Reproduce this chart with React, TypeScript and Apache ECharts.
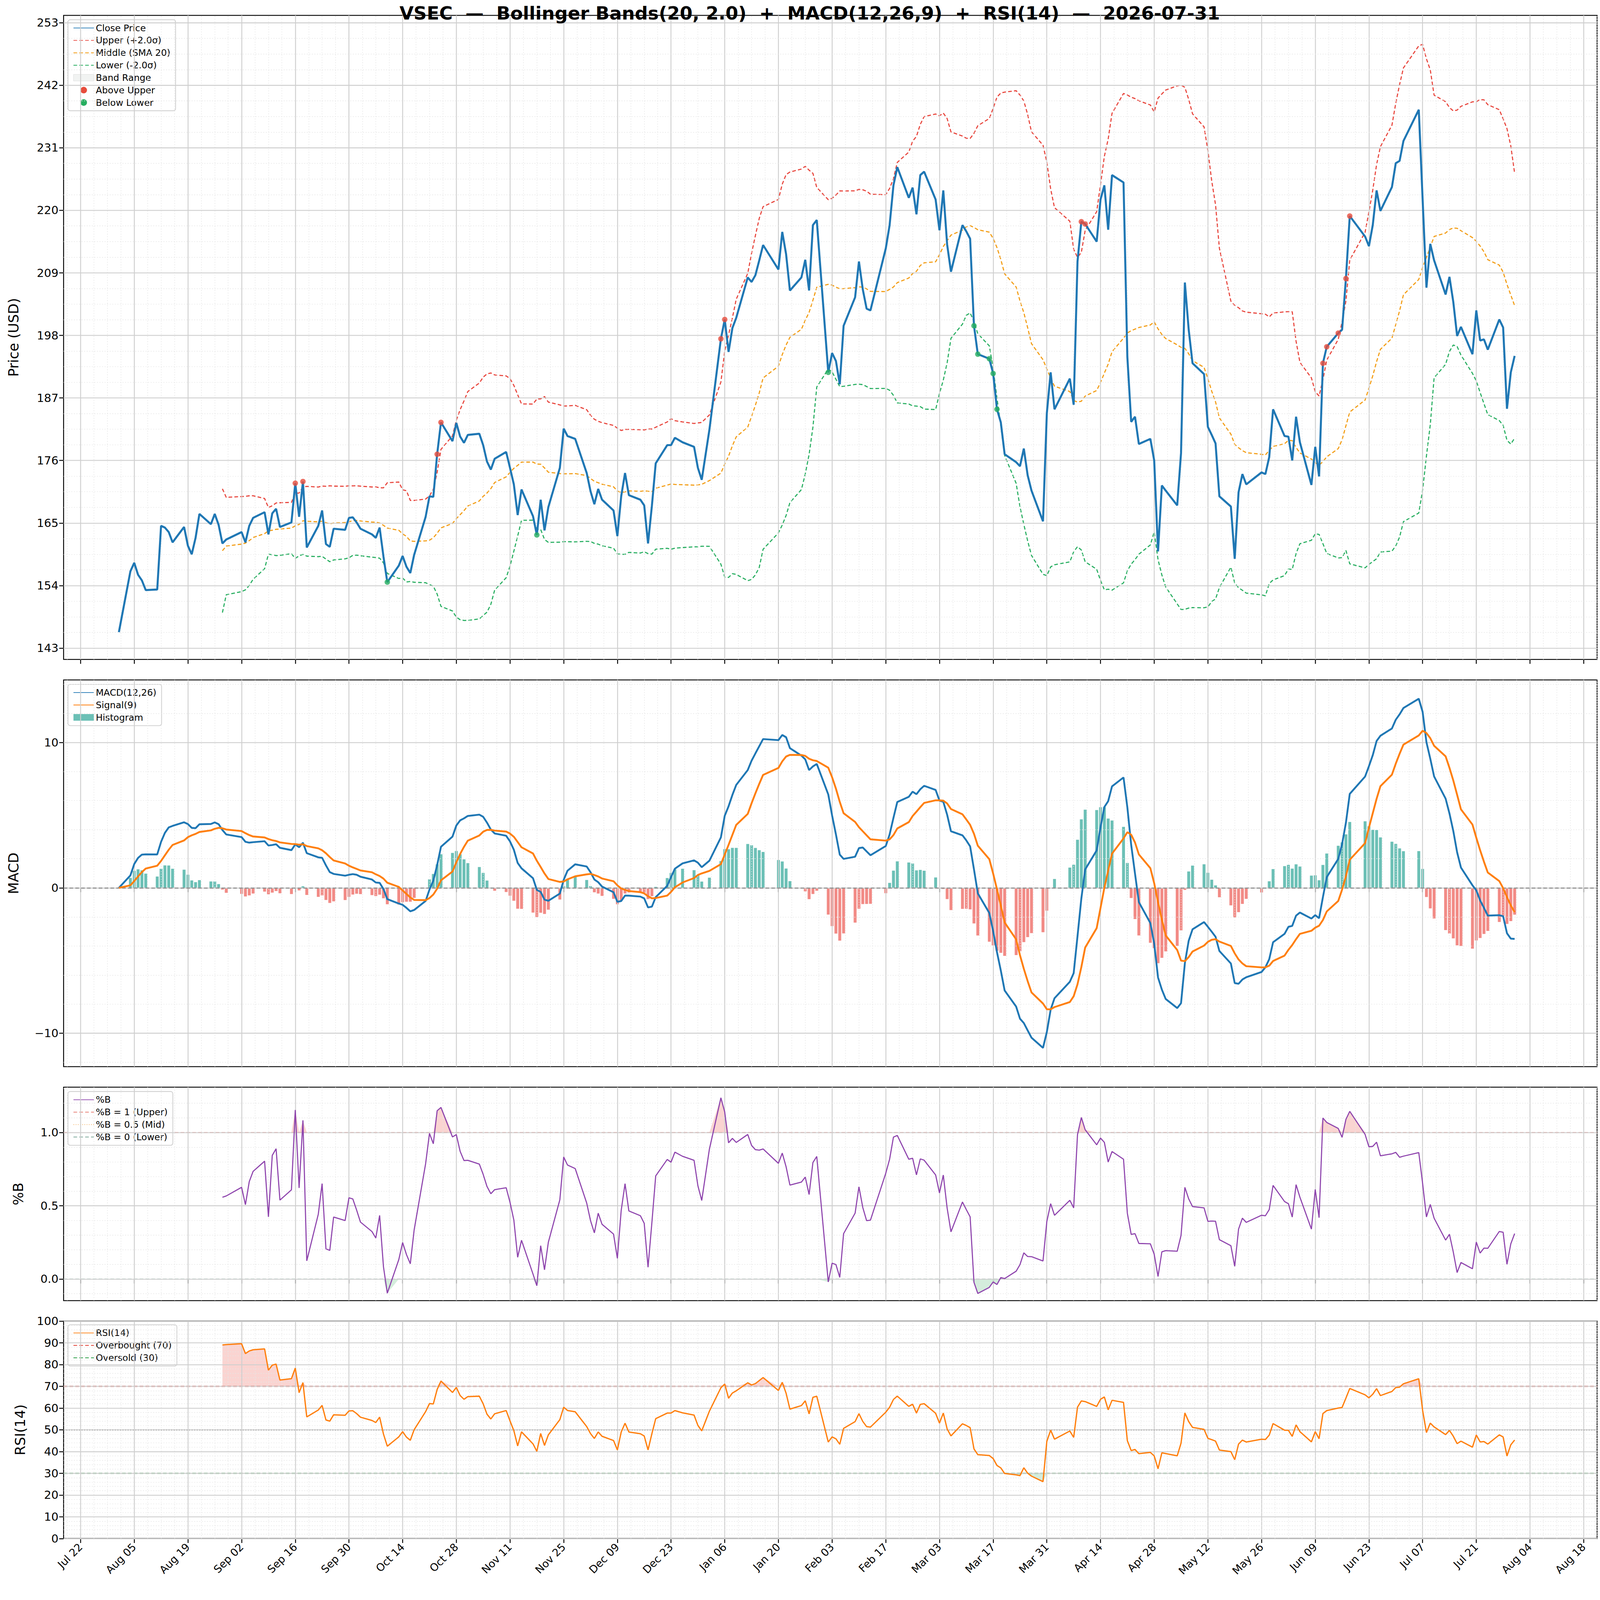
import * as echarts from "echarts";
import { useEffect, useRef, useState } from "react";

const TICKER = "VSEC";

const dates = [
  "2025-08-01","2025-08-04","2025-08-05","2025-08-06","2025-08-07","2025-08-08","2025-08-11","2025-08-12","2025-08-13","2025-08-14","2025-08-15","2025-08-18","2025-08-19","2025-08-20","2025-08-21","2025-08-22","2025-08-25","2025-08-26","2025-08-27","2025-08-28","2025-08-29",
  "2025-09-02","2025-09-03","2025-09-04","2025-09-05","2025-09-08","2025-09-09","2025-09-10","2025-09-11","2025-09-12","2025-09-15","2025-09-16","2025-09-17","2025-09-18","2025-09-19","2025-09-22","2025-09-23","2025-09-24","2025-09-25","2025-09-26","2025-09-29","2025-09-30",
  "2025-10-01","2025-10-02","2025-10-03","2025-10-06","2025-10-07","2025-10-08","2025-10-09","2025-10-10","2025-10-13","2025-10-14","2025-10-15","2025-10-16","2025-10-17","2025-10-20","2025-10-21","2025-10-22","2025-10-23","2025-10-24","2025-10-27","2025-10-28","2025-10-29","2025-10-30","2025-10-31",
  "2025-11-03","2025-11-04","2025-11-05","2025-11-06","2025-11-07","2025-11-10","2025-11-11","2025-11-12","2025-11-13","2025-11-14","2025-11-17","2025-11-18","2025-11-19","2025-11-20","2025-11-21","2025-11-24","2025-11-25","2025-11-26","2025-11-28",
  "2025-12-01","2025-12-02","2025-12-03","2025-12-04","2025-12-05","2025-12-08","2025-12-09","2025-12-10","2025-12-11","2025-12-12","2025-12-15","2025-12-16","2025-12-17","2025-12-18","2025-12-19","2025-12-22","2025-12-23","2025-12-24","2025-12-26","2025-12-29","2025-12-30","2025-12-31",
  "2026-01-02","2026-01-05","2026-01-06","2026-01-07","2026-01-08","2026-01-09","2026-01-12","2026-01-13","2026-01-14","2026-01-15","2026-01-16","2026-01-20","2026-01-21","2026-01-22","2026-01-23","2026-01-26","2026-01-27","2026-01-28","2026-01-29","2026-01-30",
  "2026-02-02","2026-02-03","2026-02-04","2026-02-05","2026-02-06","2026-02-09","2026-02-10","2026-02-11","2026-02-12","2026-02-13","2026-02-17","2026-02-18","2026-02-19","2026-02-20","2026-02-23","2026-02-24","2026-02-25","2026-02-26","2026-02-27",
  "2026-03-02","2026-03-03","2026-03-04","2026-03-05","2026-03-06","2026-03-09","2026-03-10","2026-03-11","2026-03-12","2026-03-13","2026-03-16","2026-03-17","2026-03-18","2026-03-19","2026-03-20","2026-03-23","2026-03-24","2026-03-25","2026-03-26","2026-03-27","2026-03-30","2026-03-31",
  "2026-04-01","2026-04-02","2026-04-06","2026-04-07","2026-04-08","2026-04-09","2026-04-10","2026-04-13","2026-04-14","2026-04-15","2026-04-16","2026-04-17","2026-04-20","2026-04-21","2026-04-22","2026-04-23","2026-04-24","2026-04-27","2026-04-28","2026-04-29","2026-04-30",
  "2026-05-01","2026-05-04","2026-05-05","2026-05-06","2026-05-07","2026-05-08","2026-05-11","2026-05-12","2026-05-13","2026-05-14","2026-05-15","2026-05-18","2026-05-19","2026-05-20","2026-05-21","2026-05-22","2026-05-26","2026-05-27","2026-05-28","2026-05-29",
  "2026-06-01","2026-06-02","2026-06-03","2026-06-04","2026-06-05","2026-06-08","2026-06-09","2026-06-10","2026-06-11","2026-06-12","2026-06-15","2026-06-16","2026-06-17","2026-06-18","2026-06-22","2026-06-23","2026-06-24","2026-06-25","2026-06-26","2026-06-29","2026-06-30",
  "2026-07-01","2026-07-02","2026-07-06","2026-07-07","2026-07-08","2026-07-09","2026-07-10","2026-07-13","2026-07-14","2026-07-15","2026-07-16","2026-07-17","2026-07-20","2026-07-21","2026-07-22","2026-07-23","2026-07-24","2026-07-27","2026-07-28","2026-07-29","2026-07-30","2026-07-31",
];

const closes = [
  145.8,156.5,158.0,155.9,154.9,153.2,153.3,164.5,164.2,163.4,161.6,164.3,161.0,159.5,162.4,166.6,164.8,166.6,164.7,161.4,162.1,
  163.4,161.6,164.5,165.9,166.9,163.0,166.7,167.5,164.3,165.1,172.0,166.1,172.3,160.7,164.5,167.2,161.3,160.8,164.0,163.8,165.9,
  166.0,165.1,164.0,163.0,162.4,164.2,159.1,154.6,157.5,159.2,157.3,156.2,159.4,166.1,169.7,169.6,177.1,182.7,179.4,182.6,180.2,179.1,180.5,
  180.7,178.7,175.8,174.4,176.3,177.5,174.7,171.8,166.4,170.9,166.2,162.9,169.1,163.7,167.8,174.7,181.6,180.3,179.8,
  173.8,170.6,168.3,171.0,169.1,167.2,162.7,169.7,173.8,169.9,169.1,168.1,161.4,168.0,175.5,178.7,178.7,180.0,179.2,178.4,174.7,172.6,
  181.4,197.4,200.8,195.1,199.3,201.1,208.2,207.4,208.6,211.2,213.9,209.6,216.2,212.3,205.9,208.2,211.3,205.9,217.4,218.3,
  191.5,194.9,193.5,189.4,199.7,204.7,211.0,206.1,202.7,202.4,213.3,217.4,224.4,227.6,222.2,224.0,219.3,226.2,226.8,
  221.9,216.5,223.5,214.0,209.2,217.4,216.3,215.0,199.7,194.7,193.9,191.3,185.0,182.7,177.1,175.7,175.0,178.1,173.4,170.7,165.3,184.3,
  191.5,185.0,190.4,185.8,211.0,218.0,217.6,214.5,221.9,224.4,216.6,226.2,224.9,194.2,182.8,183.7,178.9,179.8,176.0,160.0,171.6,
  170.7,168.1,177.3,207.3,199.0,193.1,191.2,181.9,180.5,179.0,169.7,167.9,158.7,170.4,173.6,171.8,173.9,173.6,176.6,185.0,
  180.3,180.2,176.0,183.7,179.2,171.7,178.4,173.2,193.1,196.0,198.4,199.0,208.0,219.0,215.4,213.7,217.4,223.5,219.9,224.1,228.3,
  228.7,232.2,237.7,222.0,206.4,214.1,211.2,205.2,208.3,203.9,197.9,199.5,194.7,202.4,197.1,197.3,195.5,200.8,199.4,185.1,191.5,194.4,
];

// RSI reading where the plotted line begins (2025-08-28); the reference history before the window is unseen
const rsiStart = 89;

const priceTicks = [143, 154, 165, 176, 187, 198, 209, 220, 231, 242, 253];
const macdTicks = [-10, 0, 10];
const pbTicks = [0, 0.5, 1.0];
const rsiTicks = [0, 10, 20, 30, 40, 50, 60, 70, 80, 90, 100];
const dateTicks = [
  "2025-07-22","2025-08-05","2025-08-19","2025-09-02","2025-09-16","2025-09-30","2025-10-14","2025-10-28","2025-11-11","2025-11-25",
  "2025-12-09","2025-12-23","2026-01-06","2026-01-20","2026-02-03","2026-02-17","2026-03-03","2026-03-17","2026-03-31","2026-04-14",
  "2026-04-28","2026-05-12","2026-05-26","2026-06-09","2026-06-23","2026-07-07","2026-07-21","2026-08-04","2026-08-18",
];

const MONTHS = ["Jan","Feb","Mar","Apr","May","Jun","Jul","Aug","Sep","Oct","Nov","Dec"];
const DAY = 86400000;
const ts = (d: string) => Date.parse(d + "T00:00:00Z");
const fmtDate = (v: number) => {
  const d = new Date(v);
  return `${MONTHS[d.getUTCMonth()]} ${String(d.getUTCDate()).padStart(2, "0")}`;
};

// indicators derived from closes
const sma = (arr: number[], n: number) =>
  arr.map((_, i) => (i < n - 1 ? null : arr.slice(i - n + 1, i + 1).reduce((a, b) => a + b, 0) / n));
const stdev = (arr: number[], n: number) =>
  arr.map((_, i) => {
    if (i < n - 1) return null;
    const w = arr.slice(i - n + 1, i + 1);
    const m = w.reduce((a, b) => a + b, 0) / n;
    return Math.sqrt(w.reduce((a, b) => a + (b - m) * (b - m), 0) / (n - 1));
  });
const ema = (arr: number[], n: number) => {
  const k = 2 / (n + 1);
  const out: number[] = [];
  arr.forEach((v, i) => out.push(i === 0 ? v : v * k + out[i - 1] * (1 - k)));
  return out;
};

const X = dates.map(ts);
const mid = sma(closes, 20);
const sd = stdev(closes, 20);
const upper = mid.map((m, i) => (m == null ? null : m + 2 * (sd[i] as number)));
const lower = mid.map((m, i) => (m == null ? null : m - 2 * (sd[i] as number)));
const pctB = closes.map((c, i) =>
  upper[i] == null ? null : (c - (lower[i] as number)) / ((upper[i] as number) - (lower[i] as number))
);
const ema12 = ema(closes, 12);
const ema26 = ema(closes, 26);
const macd = ema12.map((v, i) => v - ema26[i]);
const signal = ema(macd, 9);
const hist = macd.map((v, i) => v - signal[i]);

const rsi: (number | null)[] = (() => {
  const out: (number | null)[] = closes.map(() => null);
  let ag = 0, al = 0;
  for (let i = 1; i < closes.length; i++) {
    const d = closes[i] - closes[i - 1];
    const g = Math.max(d, 0), l = Math.max(-d, 0);
    if (i <= 14) {
      ag += g / 14; al += l / 14;
    } else {
      ag = (ag * 13 + g) / 14; al = (al * 13 + l) / 14;
    }
    if (i === 19) {
      const tot = ag + al;
      ag = (tot * rsiStart) / 100;
      al = tot - ag;
    }
    if (i >= 19) out[i] = al === 0 ? 100 : 100 - 100 / (1 + ag / al);
  }
  return out;
})();

const pair = (arr: (number | null)[]) => arr.map((v, i) => [X[i], v]);

const L = 174, W = 4195;
const GRIDS = [
  { top: 42, height: 1762 },
  { top: 1860, height: 1058 },
  { top: 2974, height: 584 },
  { top: 3614, height: 595 },
];
const YR = [
  { min: 141.0, max: 254.3, ticks: priceTicks, minor: 2.75, fmt: (v: number) => String(v) },
  { min: -12.3, max: 14.3, ticks: macdTicks, minor: 2, fmt: (v: number) => (v < 0 ? "\u2212" + Math.abs(v) : String(v)) },
  { min: -0.147, max: 1.31, ticks: pbTicks, minor: 0.1, fmt: (v: number) => v.toFixed(1) },
  { min: 0, max: 100, ticks: rsiTicks, minor: 2, fmt: (v: number) => String(v) },
];
const XMIN = ts("2025-07-17") + 14 * 3600000;
const XMAX = ts("2026-08-21") + 12 * 3600000;
const FONT = "DejaVu Sans";

const MAJOR = { color: "#cfcfcf", width: 2.5, type: "solid" };
const MINOR = { color: "#e6e6e6", width: 1.5, type: [3, 4] };

const gridLines = (gi: number) => {
  const yr = YR[gi];
  const data: any[] = [];
  for (let t = ts(dateTicks[0]) - 14 * DAY; t <= XMAX; t += 3.5 * DAY) {
    if (t < XMIN) continue;
    const major = Math.abs(((t - ts(dateTicks[0])) / DAY) % 14) < 0.01;
    data.push({ xAxis: t, lineStyle: major ? MAJOR : MINOR });
  }
  const base = yr.ticks[0];
  for (let k = -20; ; k++) {
    const v = base + k * yr.minor;
    if (v > yr.max) break;
    if (v < yr.min) continue;
    const major = yr.ticks.some((t) => Math.abs(t - v) < 1e-6);
    data.push({ yAxis: v, lineStyle: major ? MAJOR : MINOR });
  }
  return {
    type: "line", xAxisIndex: gi, yAxisIndex: gi, data: [[X[0], null]], symbol: "none", silent: true, z: 0,
    markLine: { silent: true, symbol: "none", label: { show: false }, data },
  };
};

const refLine = (gi: number, v: number, color: string, type: any, width = 2.5) => ({
  type: "line", xAxisIndex: gi, yAxisIndex: gi, data: [[X[0], null]], symbol: "none", silent: true, z: 1,
  markLine: { silent: true, symbol: "none", label: { show: false }, data: [{ yAxis: v, lineStyle: { color, type, width } }] },
});

// shaded excursion beyond a threshold, filled back to that threshold
const excursion = (gi: number, arr: (number | null)[], level: number, up: boolean, color: string) => ({
  type: "line", xAxisIndex: gi, yAxisIndex: gi, symbol: "none", silent: true, z: 2,
  data: pair(arr.map((v) => (v == null ? null : up ? Math.max(v, level) : Math.min(v, level)))),
  lineStyle: { opacity: 0 }, areaStyle: { color, opacity: 0.45, origin: level },
});

const legendBase = {
  orient: "vertical", backgroundColor: "rgba(255,255,255,0.85)", borderColor: "#cccccc", borderWidth: 2, borderRadius: 6,
  padding: [10, 14], itemGap: 9, itemWidth: 56, itemHeight: 18, textStyle: { fontSize: 25, fontFamily: FONT, color: "#000" },
};
const ln = (name: string) => ({ name, itemStyle: { opacity: 0 } });
const dot = (name: string) => ({ name, icon: "circle", itemStyle: { opacity: 1 } });

export default function App() {
  const ref = useRef<HTMLDivElement>(null);
  const [scale, setScale] = useState(1);
  useEffect(() => {
    document.body.style.margin = "0";
    document.body.style.overflow = "hidden";
    setScale(Math.min(window.innerWidth / 4377, window.innerHeight / 4322));
  }, []);
  useEffect(() => {
    if (!ref.current) return;
    const chart = echarts.init(ref.current, undefined, { renderer: "svg" });
    const above = X.map((x, i) => (upper[i] != null && closes[i] > (upper[i] as number) ? [x, closes[i]] : null)).filter(Boolean);
    const below = X.map((x, i) => (lower[i] != null && closes[i] < (lower[i] as number) ? [x, closes[i]] : null)).filter(Boolean);

    const xAxes = GRIDS.map((_, gi) => ({
      type: "value", gridIndex: gi, min: XMIN, max: XMAX, splitLine: { show: false },
      axisLine: { show: false },
      axisTick: { show: true, customValues: dateTicks.map(ts), length: 12, lineStyle: { color: "#000", width: 2.5 } },
      axisLabel: gi === 3
        ? { show: true, customValues: dateTicks.map(ts), formatter: fmtDate, rotate: 45, fontSize: 29, fontFamily: FONT, color: "#000", margin: 18 }
        : { show: false },
    }));
    const names = ["Price (USD)", "MACD", "%B", "RSI(14)"];
    const yAxes = GRIDS.map((_, gi) => ({
      type: "value", gridIndex: gi, min: YR[gi].min, max: YR[gi].max, splitLine: { show: false },
      axisLine: { show: false },
      name: names[gi], nameLocation: "middle", nameGap: gi === 2 ? 105 : gi === 3 ? 100 : 118,
      nameTextStyle: { fontSize: 38, fontFamily: FONT, color: "#000" },
      axisTick: { show: true, customValues: YR[gi].ticks, length: 12, lineStyle: { color: "#000", width: 2.5 } },
      axisLabel: { customValues: YR[gi].ticks, formatter: YR[gi].fmt, fontSize: 31, fontFamily: FONT, color: "#000", margin: 14 },
    }));

    const series: any[] = [
      gridLines(0), gridLines(1), gridLines(2), gridLines(3),
      // price panel
      { name: "_bandBase", type: "line", xAxisIndex: 0, yAxisIndex: 0, stack: "band", data: pair(lower), symbol: "none", lineStyle: { opacity: 0 }, silent: true, z: 2 },
      { name: "Band Range", type: "line", xAxisIndex: 0, yAxisIndex: 0, stack: "band", data: pair(upper.map((u, i) => (u == null ? null : u - (lower[i] as number)))), symbol: "none", lineStyle: { opacity: 0 }, silent: true, areaStyle: { color: "#dfe5e2", opacity: 0.4 }, color: "#eef1f0", z: 2 },
      { name: "Close Price", type: "line", xAxisIndex: 0, yAxisIndex: 0, data: pair(closes), symbol: "none", lineStyle: { color: "#1f77b4", width: 5.5 }, color: "#1f77b4", z: 5 },
      { name: "Upper (+2.0σ)", type: "line", xAxisIndex: 0, yAxisIndex: 0, data: pair(upper), symbol: "none", lineStyle: { color: "#e8453c", width: 3, type: [10, 6] }, color: "#e8453c", z: 4 },
      { name: "Middle (SMA 20)", type: "line", xAxisIndex: 0, yAxisIndex: 0, data: pair(mid), symbol: "none", lineStyle: { color: "#f39c12", width: 3, type: [10, 6] }, color: "#f39c12", z: 4 },
      { name: "Lower (-2.0σ)", type: "line", xAxisIndex: 0, yAxisIndex: 0, data: pair(lower), symbol: "none", lineStyle: { color: "#27ae60", width: 3, type: [10, 6] }, color: "#27ae60", z: 4 },
      { name: "Above Upper", type: "scatter", xAxisIndex: 0, yAxisIndex: 0, data: above, symbolSize: 15, itemStyle: { color: "#e74c3c" }, z: 6 },
      { name: "Below Lower", type: "scatter", xAxisIndex: 0, yAxisIndex: 0, data: below, symbolSize: 15, itemStyle: { color: "#27ae60" }, z: 6 },
      // macd panel
      refLine(1, 0, "#888888", [10, 6], 2.5),
      { name: "Histogram", type: "bar", xAxisIndex: 1, yAxisIndex: 1, data: pair(hist), barWidth: 8, color: "#6cc0b6",
        itemStyle: { color: (p: any) => (p.value[1] >= 0 ? "#6cc0b6" : "#f28b86") }, z: 3 },
      { name: "MACD(12,26)", type: "line", xAxisIndex: 1, yAxisIndex: 1, data: pair(macd), symbol: "none", lineStyle: { color: "#1f77b4", width: 5 }, color: "#1f77b4", z: 5 },
      { name: "Signal(9)", type: "line", xAxisIndex: 1, yAxisIndex: 1, data: pair(signal), symbol: "none", lineStyle: { color: "#ff7f0e", width: 5 }, color: "#ff7f0e", z: 5 },
      // %B panel
      excursion(2, pctB, 1, true, "#f4a09a"),
      excursion(2, pctB, 0, false, "#9fd8b2"),
      { name: "%B", type: "line", xAxisIndex: 2, yAxisIndex: 2, data: pair(pctB), symbol: "none", lineStyle: { color: "#8e44ad", width: 3 }, color: "#8e44ad", z: 5 },
      { name: "%B = 1 (Upper)", type: "line", xAxisIndex: 2, yAxisIndex: 2, data: [[XMIN, 1], [XMAX, 1]], symbol: "none", lineStyle: { color: "#e57368", width: 2.2, type: [10, 6] }, color: "#e57368", z: 2 },
      { name: "%B = 0.5 (Mid)", type: "line", xAxisIndex: 2, yAxisIndex: 2, data: [[XMIN, 0.5], [XMAX, 0.5]], symbol: "none", lineStyle: { color: "#f5b870", width: 2, type: [2, 4] }, color: "#f5b870", z: 2 },
      { name: "%B = 0 (Lower)", type: "line", xAxisIndex: 2, yAxisIndex: 2, data: [[XMIN, 0], [XMAX, 0]], symbol: "none", lineStyle: { color: "#7fa99b", width: 2.2, type: [10, 6] }, color: "#7fa99b", z: 2 },
      // rsi panel
      excursion(3, rsi, 70, true, "#f4a09a"),
      excursion(3, rsi, 30, false, "#9fd8b2"),
      refLine(3, 50, "#999999", [3, 4], 2),
      { name: "RSI(14)", type: "line", xAxisIndex: 3, yAxisIndex: 3, data: pair(rsi), symbol: "none", lineStyle: { color: "#ff7f0e", width: 3.5 }, color: "#ff7f0e", z: 5 },
      { name: "Overbought (70)", type: "line", xAxisIndex: 3, yAxisIndex: 3, data: [[XMIN, 70], [XMAX, 70]], symbol: "none", lineStyle: { color: "#e03c31", width: 3, type: [10, 6] }, color: "#e03c31", z: 2 },
      { name: "Oversold (30)", type: "line", xAxisIndex: 3, yAxisIndex: 3, data: [[XMIN, 30], [XMAX, 30]], symbol: "none", lineStyle: { color: "#2e9e48", width: 3, type: [10, 6] }, color: "#2e9e48", z: 2 },
    ];

    chart.setOption({
      animation: false,
      backgroundColor: "#ffffff",
      textStyle: { fontFamily: FONT },
      title: {
        text: `${TICKER}  —  Bollinger Bands(20, 2.0)  +  MACD(12,26,9)  +  RSI(14)  —  2026-07-31`,
        left: 2210, top: 6, textAlign: "center",
        textStyle: { fontSize: 50, fontWeight: "bold", fontFamily: FONT, color: "#000" },
      },
      grid: GRIDS.map((g) => ({ left: L, width: W, top: g.top, height: g.height, show: true, borderColor: "#000", borderWidth: 2.5, backgroundColor: "transparent" })),
      xAxis: xAxes,
      yAxis: yAxes,
      legend: [
        { ...legendBase, left: 186, top: 54, data: [
          ln("Close Price"), ln("Upper (+2.0σ)"), ln("Middle (SMA 20)"), ln("Lower (-2.0σ)"),
          { name: "Band Range", icon: "rect", itemStyle: { color: "#f1f3f2", borderColor: "#dddddd", borderWidth: 1, opacity: 1 } },
          dot("Above Upper"), dot("Below Lower"),
        ] },
        { ...legendBase, left: 186, top: 1872, data: [ln("MACD(12,26)"), ln("Signal(9)"), { name: "Histogram", icon: "rect", itemStyle: { color: "#6cc0b6" } }] },
        { ...legendBase, left: 186, top: 2986, data: [ln("%B"), ln("%B = 1 (Upper)"), ln("%B = 0.5 (Mid)"), ln("%B = 0 (Lower)")] },
        { ...legendBase, left: 186, top: 3624, data: [ln("RSI(14)"), ln("Overbought (70)"), ln("Oversold (30)")] },
      ],
      series,
    });
    return () => chart.dispose();
  }, []);
  return (
    <div style={{ width: 4377 * scale, height: 4322 * scale, overflow: "hidden" }}>
      <div ref={ref} style={{ width: 4377, height: 4322, transform: `scale(${scale})`, transformOrigin: "0 0" }} />
    </div>
  );
}
